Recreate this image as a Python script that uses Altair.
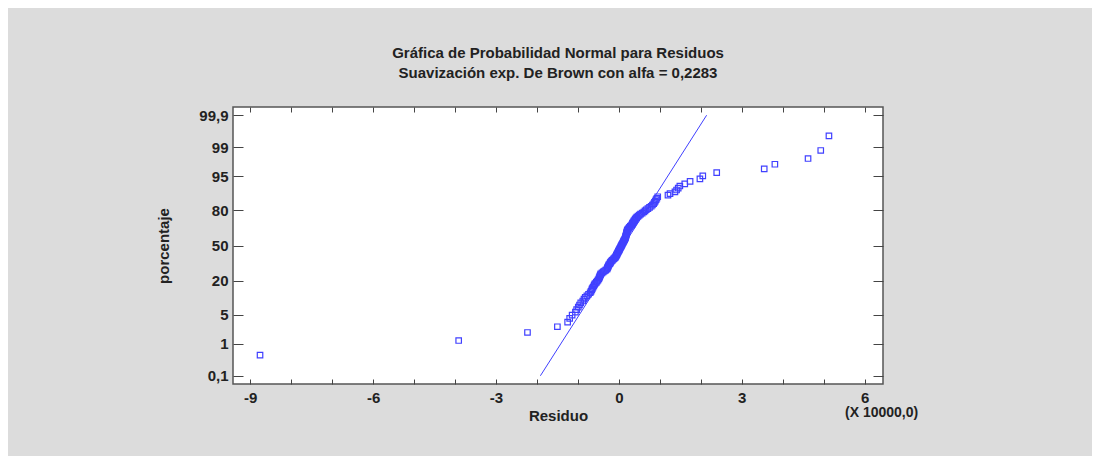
import altair as alt
import pandas as pd
from statistics import NormalDist

# ---- data (residuals in units of 10000) ----
residuos = [
    -8.76, -3.91, -2.23, -1.50, -1.25, -1.20, -1.14, -1.06, -1.03, -0.99,
    -0.96, -0.93, -0.88, -0.85, -0.82, -0.78, -0.74, -0.70, -0.68, -0.66,
    -0.65, -0.63, -0.61, -0.60, -0.58, -0.55, -0.53, -0.51, -0.49, -0.48,
    -0.47, -0.46, -0.45, -0.44, -0.41, -0.38, -0.35, -0.32, -0.29, -0.28,
    -0.27, -0.26, -0.25, -0.24, -0.22, -0.21, -0.20, -0.18, -0.16, -0.14,
    -0.12, -0.10, -0.08, -0.07, -0.06, -0.05, -0.04, -0.03, -0.02, -0.01,
    0.00, 0.01, 0.02, 0.03, 0.04, 0.05, 0.06, 0.07, 0.08, 0.09,
    0.10, 0.11, 0.12, 0.13, 0.14, 0.15, 0.16, 0.165, 0.17, 0.175,
    0.18, 0.185, 0.19, 0.195, 0.20, 0.205, 0.21, 0.23, 0.25, 0.26,
    0.28, 0.30, 0.32, 0.33, 0.34, 0.36, 0.37, 0.39, 0.40, 0.42,
    0.44, 0.47, 0.50, 0.53, 0.57, 0.61, 0.64, 0.67, 0.71, 0.75,
    0.79, 0.82, 0.85, 0.87, 0.89, 0.91, 0.93, 0.95, 1.20, 1.25,
    1.37, 1.41, 1.45, 1.49, 1.61, 1.74, 1.98, 2.05, 2.39, 3.55,
    3.81, 4.62, 4.93, 5.13,
]
titulo = ["Gráfica de Probabilidad Normal para Residuos",
          "Suavización exp. De Brown con alfa = 0,2283"]
pct_ticks = [0.1, 1, 5, 20, 50, 80, 95, 99, 99.9]
pct_labels = ["0,1", "1", "5", "20", "50", "80", "95", "99", "99,9"]
x_labels = [-9, -6, -3, 0, 3, 6]
x_ticks = list(range(-9, 7))
linea_x = [-1.915, 2.144]
linea_pct = [0.1, 99.9]
escala_texto = "(X 10000,0)"

# ---- normal probability positions (Blom plotting positions) ----
nd = NormalDist()
n = len(residuos)
df_pts = pd.DataFrame({
    "residuo": residuos,
    "z": [nd.inv_cdf((i + 0.625) / (n + 0.25)) for i in range(n)],
})
df_line = pd.DataFrame({"residuo": linea_x,
                        "z": [nd.inv_cdf(p / 100) for p in linea_pct]})
z_ticks = [nd.inv_cdf(p / 100) for p in pct_ticks]
df_txt = pd.DataFrame({"residuo": [x_labels[-1]], "t": [escala_texto]})

parts = [f"abs(datum.value - ({z:.10f})) < 0.0001 ? '{l}'"
         for z, l in zip(z_ticks, pct_labels)]
label_expr = " : ".join(parts) + " : ''"

FONT = "Liberation Sans"
DARK = "#222222"
BLUE = "#4040ff"

xs = alt.Scale(domain=[-9.42, 6.45], nice=False, zero=False)
ys = alt.Scale(domain=[-3.285, 3.285], nice=False, zero=False)

ax_x_lab = alt.Axis(orient="bottom", values=x_labels, ticks=False, domain=False,
                    grid=False, labelFont=FONT, labelFontSize=15,
                    labelFontWeight="bold", labelColor=DARK, labelPadding=6,
                    labelFlush=False, labelExpr="datum.value + ''",
                    title="Residuo", titleFont=FONT, titleFontSize=15,
                    titleFontWeight="bold", titleColor=DARK, titlePadding=3)
ax_y_lab = alt.Axis(orient="left", values=z_ticks, labelExpr=label_expr,
                    ticks=False, domain=False, grid=False, labelFont=FONT,
                    labelFontSize=15, labelFontWeight="bold", labelColor=DARK,
                    labelPadding=5, labelFlush=False, title="porcentaje",
                    titleFont=FONT, titleFontSize=15, titleFontWeight="bold",
                    titleColor=DARK, titlePadding=27)


def tick_axis(orient, values, size):
    return alt.Axis(orient=orient, values=values, labels=False, domain=False,
                    grid=False, ticks=True, tickSize=size, offset=-size,
                    tickColor="#444444", tickWidth=1, title=None)


pts = alt.Chart(df_pts).mark_point(
    shape="square", filled=False, size=30, strokeWidth=1.2, color=BLUE, opacity=1
).encode(
    x=alt.X("residuo:Q", scale=xs, axis=ax_x_lab),
    y=alt.Y("z:Q", scale=ys, axis=ax_y_lab),
)
line = alt.Chart(df_line).mark_line(color=BLUE, strokeWidth=1).encode(
    x=alt.X("residuo:Q", axis=tick_axis("bottom", x_ticks, 5)),
    y=alt.Y("z:Q", axis=tick_axis("left", z_ticks, 10)),
)
line2 = alt.Chart(df_line).mark_line(opacity=0).encode(
    x=alt.X("residuo:Q", axis=tick_axis("top", x_ticks, 5)),
    y=alt.Y("z:Q", axis=tick_axis("right", z_ticks, 10)),
)
txt = alt.Chart(df_txt).mark_text(
    font=FONT, fontSize=14, fontWeight="bold", color=DARK, dx=17,
    baseline="middle", align="center"
).encode(
    x=alt.X("residuo:Q", axis=None),
    y=alt.value(306),
    text="t:N",
)

chart = alt.layer(pts, line, line2, txt).resolve_axis(
    x="independent", y="independent"
).properties(
    width=650, height=277,
    title=alt.TitleParams(text=titulo, font=FONT, fontSize=15, fontWeight="bold",
                          color=DARK, lineHeight=20, offset=26, anchor="middle",
                          frame="group"),
    autosize=alt.AutoSizeParams(type="none"),
    padding={"left": 225, "top": 99, "right": 209, "bottom": 72},
    background="#dcdcdc",
).configure_view(stroke="#555555", strokeWidth=1.5, fill="white")

chart.save("out.html", embed_options={"renderer": "svg", "actions": False})
